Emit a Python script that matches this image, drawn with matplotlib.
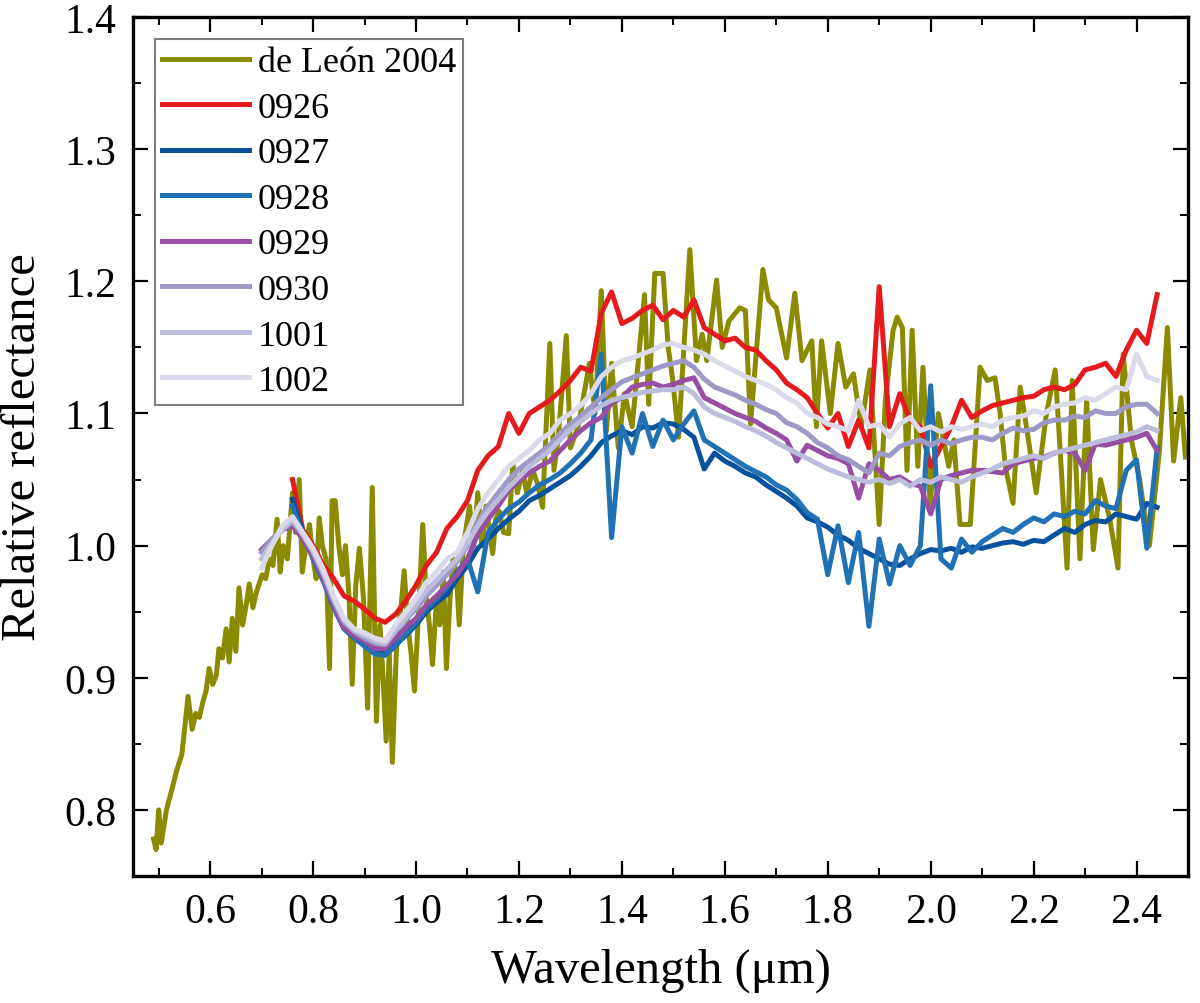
import numpy as np
import matplotlib
matplotlib.use("Agg")
import matplotlib.pyplot as plt
from matplotlib.ticker import MultipleLocator

plt.rcParams['font.family'] = ['Liberation Serif', 'DejaVu Serif']

# ---- de León 2004 (wavelength, reflectance) ----
deleon_points = [
    (0.490, 0.778), (0.495, 0.770), (0.500, 0.800), (0.505, 0.775), (0.515, 0.800),
    (0.526, 0.816), (0.535, 0.830), (0.545, 0.842), (0.550, 0.860), (0.557, 0.886),
    (0.565, 0.861), (0.572, 0.873), (0.579, 0.870), (0.586, 0.882), (0.592, 0.890),
    (0.598, 0.907), (0.605, 0.895), (0.612, 0.902), (0.617, 0.922), (0.624, 0.915),
    (0.631, 0.937), (0.637, 0.912), (0.643, 0.945), (0.650, 0.920), (0.656, 0.968),
    (0.663, 0.940), (0.670, 0.955), (0.676, 0.971), (0.683, 0.953), (0.690, 0.965),
    (0.701, 0.978), (0.708, 0.975), (0.715, 0.990), (0.722, 0.985), (0.730, 1.020),
    (0.736, 0.980), (0.742, 1.000), (0.750, 0.990), (0.760, 1.040), (0.766, 1.010),
    (0.773, 1.050), (0.779, 0.980), (0.786, 1.000), (0.793, 1.016), (0.800, 0.990),
    (0.806, 0.975), (0.812, 1.021), (0.818, 1.000), (0.825, 0.990), (0.832, 0.907),
    (0.837, 1.034), (0.843, 1.034), (0.850, 1.000), (0.857, 0.978), (0.863, 1.000),
    (0.870, 0.960), (0.876, 0.895), (0.883, 0.970), (0.890, 0.998), (0.898, 0.960),
    (0.906, 0.877), (0.915, 1.044), (0.923, 0.867), (0.930, 0.940), (0.936, 0.900),
    (0.942, 0.852), (0.948, 0.920), (0.954, 0.836), (0.962, 0.922), (0.970, 0.950),
    (0.977, 0.981), (0.984, 0.940), (0.990, 0.920), (0.997, 0.890), (1.005, 0.950),
    (1.013, 1.016), (1.020, 0.960), (1.026, 0.940), (1.032, 0.910), (1.040, 0.960),
    (1.046, 0.940), (1.053, 0.980), (1.059, 0.907), (1.066, 0.960), (1.072, 0.990),
    (1.078, 0.980), (1.084, 0.940), (1.092, 1.000), (1.104, 1.030), (1.112, 1.000),
    (1.120, 1.040), (1.128, 1.000), (1.136, 1.030), (1.149, 0.994), (1.155, 1.020),
    (1.162, 1.026), (1.170, 1.010), (1.180, 1.009), (1.188, 1.062), (1.197, 1.040),
    (1.207, 1.057), (1.215, 1.040), (1.227, 1.057), (1.236, 1.047), (1.246, 1.029),
    (1.260, 1.153), (1.268, 1.057), (1.276, 1.080), (1.292, 1.159), (1.300, 1.074),
    (1.315, 1.090), (1.337, 1.138), (1.348, 1.100), (1.360, 1.193), (1.370, 1.087),
    (1.380, 1.138), (1.393, 1.074), (1.405, 1.115), (1.420, 1.090), (1.444, 1.190),
    (1.452, 1.107), (1.464, 1.206), (1.480, 1.206), (1.490, 1.150), (1.499, 1.125),
    (1.510, 1.082), (1.532, 1.224), (1.545, 1.140), (1.556, 1.160), (1.565, 1.140),
    (1.584, 1.201), (1.595, 1.150), (1.608, 1.170), (1.629, 1.180), (1.640, 1.178),
    (1.650, 1.092), (1.674, 1.209), (1.685, 1.186), (1.700, 1.180), (1.720, 1.142),
    (1.736, 1.191), (1.750, 1.140), (1.769, 1.155), (1.778, 1.090), (1.788, 1.155),
    (1.805, 1.100), (1.820, 1.153), (1.835, 1.120), (1.850, 1.130), (1.865, 1.090),
    (1.882, 1.133), (1.900, 1.016), (1.912, 1.110), (1.927, 1.163), (1.935, 1.173),
    (1.945, 1.165), (1.954, 1.057), (1.964, 1.163), (1.975, 1.060), (1.985, 1.135),
    (1.999, 1.032), (2.015, 1.100), (2.035, 1.060), (2.045, 1.080), (2.057, 1.016),
    (2.077, 1.016), (2.096, 1.135), (2.110, 1.125), (2.125, 1.127), (2.135, 1.100),
    (2.145, 1.060), (2.160, 1.032), (2.174, 1.120), (2.190, 1.080), (2.205, 1.040),
    (2.225, 1.100), (2.242, 1.133), (2.255, 1.050), (2.265, 0.983), (2.275, 1.125),
    (2.290, 0.990), (2.303, 1.110), (2.316, 0.997), (2.330, 1.050), (2.348, 1.020),
    (2.364, 0.983), (2.374, 1.145), (2.390, 1.080), (2.406, 1.050), (2.425, 1.000),
    (2.444, 1.070), (2.460, 1.165), (2.472, 1.064), (2.486, 1.112), (2.495, 1.067),
]
wl_deleon = [p[0] for p in deleon_points]
r_deleon = [p[1] for p in deleon_points]

# ---- sampling grids (µm) ----
wl_a = np.round(np.arange(0.70, 2.4401, 0.02), 2)   # 0929, 0930, 1001, 1002
wl_b = np.round(np.arange(0.76, 2.4401, 0.02), 2)   # 0926, 0927, 0928

r_0926 = [
    1.050, 1.012, 1.000, 0.985, 0.975, 0.962, 0.958, 0.952, 0.945, 0.942,
    0.948, 0.958, 0.970, 0.985, 0.995, 1.013, 1.022, 1.034, 1.057, 1.068,
    1.075, 1.100, 1.085, 1.100, 1.105, 1.110, 1.117, 1.125, 1.135, 1.132,
    1.176, 1.192, 1.168, 1.172, 1.178, 1.182, 1.171, 1.178, 1.173, 1.186,
    1.165, 1.160, 1.155, 1.157, 1.150, 1.148, 1.140, 1.133, 1.123, 1.118,
    1.112, 1.100, 1.089, 1.100, 1.075, 1.095, 1.074, 1.196, 1.090, 1.115,
    1.095, 1.090, 1.060, 1.075, 1.090, 1.110, 1.097, 1.102, 1.106, 1.108,
    1.110, 1.112, 1.113, 1.118, 1.120, 1.118, 1.122, 1.133, 1.135, 1.138,
    1.128, 1.148, 1.163, 1.153, 1.190,
]
r_0927 = [
    1.035, 1.010, 0.992, 0.975, 0.955, 0.938, 0.932, 0.926, 0.920, 0.918,
    0.925, 0.932, 0.940, 0.950, 0.957, 0.963, 0.975, 0.985, 0.998, 1.005,
    1.013, 1.020, 1.026, 1.034, 1.038, 1.043, 1.048, 1.053, 1.060, 1.068,
    1.078, 1.083, 1.087, 1.084, 1.090, 1.089, 1.093, 1.092, 1.088, 1.082,
    1.058, 1.070, 1.064, 1.060, 1.055, 1.052, 1.046, 1.041, 1.036, 1.030,
    1.021, 1.018, 1.014, 1.008, 1.004, 0.998, 0.994, 0.990, 0.986, 0.985,
    0.990, 0.994, 0.997, 0.996, 0.998, 0.995, 0.999, 0.998, 1.000, 1.002,
    1.003, 1.001, 1.004, 1.003, 1.008, 1.013, 1.010, 1.016, 1.019, 1.018,
    1.024, 1.022, 1.020, 1.032, 1.029,
]
r_0928 = [
    1.030, 1.008, 0.990, 0.973, 0.953, 0.937, 0.930, 0.924, 0.918, 0.917,
    0.924, 0.933, 0.942, 0.952, 0.960, 0.968, 0.980, 0.990, 0.965, 1.010,
    1.020, 1.028, 1.033, 1.040, 1.046, 1.050, 1.055, 1.062, 1.070, 1.080,
    1.145, 1.006, 1.090, 1.070, 1.100, 1.075, 1.095, 1.080, 1.092, 1.102,
    1.080, 1.075, 1.070, 1.065, 1.060, 1.056, 1.052, 1.046, 1.042, 1.035,
    1.025, 1.020, 0.978, 1.015, 0.972, 1.010, 0.939, 1.005, 0.971, 1.000,
    0.985, 1.000, 1.121, 0.990, 0.983, 1.005, 0.995, 1.003, 1.008, 1.013,
    1.010, 1.016, 1.021, 1.018, 1.024, 1.022, 1.026, 1.024, 1.034, 1.030,
    1.028, 1.057, 1.065, 0.998, 1.074,
]
r_0929 = [
    0.997, 1.005, 1.012, 1.015, 1.005, 0.992, 0.975, 0.955, 0.938, 0.932,
    0.928, 0.922, 0.922, 0.930, 0.938, 0.945, 0.955, 0.962, 0.970, 0.978,
    0.990, 1.009, 1.020, 1.030, 1.042, 1.049, 1.055, 1.060, 1.064, 1.072,
    1.080, 1.087, 1.093, 1.097, 1.108, 1.112, 1.120, 1.122, 1.123, 1.120,
    1.122, 1.125, 1.127, 1.112, 1.108, 1.104, 1.100, 1.097, 1.094, 1.089,
    1.085, 1.080, 1.064, 1.076, 1.072, 1.068, 1.066, 1.062, 1.036, 1.062,
    1.057, 1.050, 1.052, 1.047, 1.045, 1.024, 1.050, 1.053, 1.055, 1.057,
    1.057, 1.056, 1.055, 1.062, 1.064, 1.066, 1.067, 1.070, 1.072, 1.070,
    1.057, 1.077, 1.076, 1.078, 1.080, 1.082, 1.085, 1.072,
]
r_0930 = [
    0.995, 1.005, 1.012, 1.018, 1.008, 0.995, 0.978, 0.958, 0.942, 0.935,
    0.930, 0.926, 0.925, 0.935, 0.944, 0.952, 0.962, 0.970, 0.978, 0.988,
    1.000, 1.018, 1.030, 1.040, 1.050, 1.058, 1.064, 1.070, 1.076, 1.085,
    1.092, 1.098, 1.105, 1.112, 1.118, 1.124, 1.127, 1.130, 1.133, 1.136,
    1.138, 1.140, 1.135, 1.126, 1.120, 1.117, 1.114, 1.110, 1.107, 1.103,
    1.100, 1.093, 1.090, 1.085, 1.078, 1.074, 1.068, 1.065, 1.060, 1.055,
    1.070, 1.068, 1.075, 1.078, 1.080, 1.076, 1.080, 1.077, 1.080, 1.082,
    1.082, 1.080, 1.085, 1.089, 1.087, 1.088, 1.093, 1.095, 1.095, 1.098,
    1.097, 1.102, 1.100, 1.100, 1.105, 1.107, 1.107, 1.100,
]
r_1001 = [
    0.990, 1.002, 1.012, 1.020, 1.009, 0.996, 0.980, 0.960, 0.944, 0.936,
    0.932, 0.928, 0.926, 0.936, 0.945, 0.955, 0.966, 0.974, 0.982, 0.990,
    1.002, 1.015, 1.026, 1.035, 1.044, 1.052, 1.060, 1.066, 1.072, 1.080,
    1.088, 1.094, 1.100, 1.106, 1.110, 1.112, 1.114, 1.116, 1.117, 1.118,
    1.118, 1.120, 1.115, 1.105, 1.100, 1.097, 1.094, 1.090, 1.087, 1.083,
    1.078, 1.074, 1.070, 1.066, 1.062, 1.058, 1.055, 1.052, 1.050, 1.048,
    1.050, 1.047, 1.050, 1.045, 1.050, 1.048, 1.052, 1.050, 1.048, 1.052,
    1.055, 1.058, 1.062, 1.064, 1.066, 1.068, 1.066, 1.070, 1.072, 1.074,
    1.076, 1.078, 1.080, 1.082, 1.084, 1.086, 1.090, 1.087,
]
r_1002 = [
    0.983, 1.000, 1.015, 1.022, 1.010, 0.998, 0.982, 0.962, 0.945, 0.937,
    0.934, 0.930, 0.928, 0.940, 0.950, 0.960, 0.972, 0.980, 0.990, 0.995,
    1.010, 1.028, 1.040, 1.050, 1.060, 1.066, 1.072, 1.080, 1.085, 1.095,
    1.100, 1.106, 1.115, 1.128, 1.135, 1.140, 1.142, 1.145, 1.148, 1.152,
    1.153, 1.150, 1.148, 1.145, 1.140, 1.136, 1.132, 1.128, 1.125, 1.122,
    1.118, 1.112, 1.108, 1.100, 1.097, 1.092, 1.090, 1.087, 1.110, 1.090,
    1.092, 1.082, 1.092, 1.097, 1.087, 1.090, 1.086, 1.090, 1.088, 1.090,
    1.092, 1.090, 1.095, 1.097, 1.098, 1.102, 1.100, 1.105, 1.107, 1.108,
    1.112, 1.110, 1.115, 1.120, 1.118, 1.145, 1.128, 1.125,
]

series = [
    ("0926", wl_b, r_0926, "#E41A1C"),
    ("0927", wl_b, r_0927, "#08519C"),
    ("0928", wl_b, r_0928, "#2171B5"),
    ("0929", wl_a, r_0929, "#984EA3"),
    ("0930", wl_a, r_0930, "#9E9AC8"),
    ("1001", wl_a, r_1001, "#BCBDDC"),
    ("1002", wl_a, r_1002, "#DADAEB"),
]

fig = plt.figure(figsize=(12.0, 10.04), dpi=100)
ax = fig.add_axes([0.1108, 0.1265, 0.8792, 0.8555])

lw = 3.6
ax.plot(wl_deleon, r_deleon, color="#8B8B00", lw=lw, label="de León 2004",
        solid_joinstyle="round")
for name, wl, r, c in series:
    n = min(len(wl), len(r))
    ax.plot(wl[:n], r[:n], color=c, lw=lw, label=name, solid_joinstyle="round")

ax.set_xlim(0.45, 2.50)
ax.set_ylim(0.75, 1.40)
ax.xaxis.set_major_locator(MultipleLocator(0.2))
ax.xaxis.set_minor_locator(MultipleLocator(0.1))
ax.yaxis.set_major_locator(MultipleLocator(0.1))
ax.yaxis.set_minor_locator(MultipleLocator(0.05))
ax.xaxis.set_major_formatter(plt.FuncFormatter(lambda v, p: f"{v:.1f}"))
ax.yaxis.set_major_formatter(plt.FuncFormatter(lambda v, p: f"{v:.1f}"))

ax.tick_params(which="both", direction="in", top=True, right=True,
               labeltop=False, labelright=False)
ax.tick_params(which="major", length=11, width=1.6, labelsize=30, pad=12)
ax.tick_params(which="minor", length=5.5, width=1.4)
for s in ax.spines.values():
    s.set_linewidth(2.4)

ax.set_xlabel("Wavelength (μm)", fontsize=35, labelpad=12)
ax.set_ylabel("Relative reflectance", fontsize=35, labelpad=14)

leg = ax.legend(loc="upper left", fontsize=26, handlelength=2.4,
                handletextpad=0.25, labelspacing=0.34, borderpad=0.2,
                borderaxespad=0.6, fancybox=False, framealpha=1.0)
leg.get_frame().set_edgecolor("#7F7F7F")
leg.get_frame().set_linewidth(1.5)

fig.savefig("out.png", dpi=100)
